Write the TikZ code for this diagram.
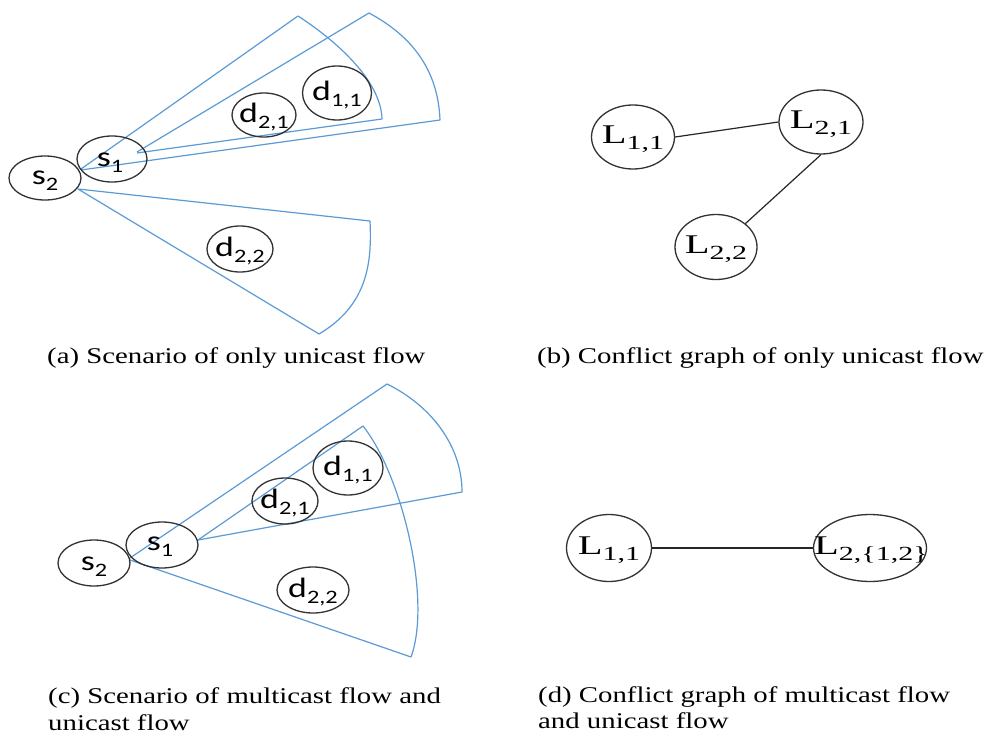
\documentclass[tikz,border=0pt]{standalone}
\usepackage{fontspec}
\setmainfont{Liberation Serif}
\newfontfamily\capfont[FakeStretch=1.28]{Liberation Serif}
\newfontfamily\sfont[FakeStretch=1.28]{Carlito}
\newfontfamily\lfont[FakeStretch=1.5]{Liberation Serif}
\usetikzlibrary{shapes.geometric}
\definecolor{beamc}{RGB}{91,155,213}
\definecolor{ringc}{RGB}{50,50,50}
\newcommand\ssb[1]{\raisebox{-6pt}{\fontsize{19}{19}\selectfont #1}}
\newcommand\lsb[1]{\raisebox{-6pt}{\fontsize{20}{20}\selectfont #1}}
\begin{document}
\begin{tikzpicture}[x=1pt,y=-1pt,
  ring/.style={draw=ringc, line width=1.3pt, ellipse, inner sep=0pt},
  stxt/.style={inner sep=0pt, font=\sfont\fontsize{28}{28}\selectfont},
  ltxt/.style={inner sep=0pt, font=\lfont\fontsize{27}{27}\selectfont},
  beamline/.style={draw=beamc, line width=1.2pt, line join=round},
  link/.style={draw=black!85, line width=1.2pt},
  captxt/.style={inner sep=0pt, anchor=base west, font=\capfont\fontsize{22.5}{27}\selectfont}]
\fill[white] (0,0) rectangle (988,733);
\useasboundingbox (0,0) rectangle (988,733);

% ---------- (a) ----------
\draw[beamline] (81,169) -- (298,16) .. controls (335,40) and (381,80) .. (382,119) -- (137,153);
\draw[beamline] (137,152) -- (369,13) .. controls (410,35) and (438,68) .. (440,120) -- (81,170);
\draw[beamline] (78,189) -- (370,221) .. controls (372,262) and (368,305) .. (319,334) -- cycle;

\node[ring, minimum width=72, minimum height=44] (s2a) at (45,178) {};
\node[stxt] (s2at) at (45,181) {s\ssb{2}};
\node[ring, minimum width=70, minimum height=46] (s1a) at (112,159) {};
\node[stxt] (s1at) at (110,163) {s\ssb{1}};
\node[ring, minimum width=64, minimum height=44] (d21a) at (264,115) {};
\node[stxt] (d21at) at (264,117) {d\ssb{2,1}};
\node[ring, minimum width=69, minimum height=54] (d11a) at (337,93) {};
\node[stxt] (d11at) at (337,95) {d\ssb{1,1}};
\node[ring, minimum width=66, minimum height=46] (d22a) at (240,249) {};
\node[stxt] (d22at) at (240,251) {d\ssb{2,2}};

\node[captxt] (capa) at (47,363) {(a) Scenario of only unicast flow};

% ---------- (b) ----------
\node[ring, minimum width=83, minimum height=64] (L11b) at (633,137) {};
\node[ltxt] (L11bt) at (633,139) {L\lsb{1,1}};
\node[ring, minimum width=84, minimum height=64] (L21b) at (821,122) {};
\node[ltxt] (L21bt) at (821,124) {L\lsb{2,1}};
\node[ring, minimum width=82, minimum height=65] (L22b) at (716,247) {};
\node[ltxt] (L22bt) at (716,249) {L\lsb{2,2}};
\draw[link] (L11b.east) -- (L21b.west);
\draw[link] (L21b.south) -- (L22b.north east);

\node[captxt] (capb) at (537,363) {(b) Conflict graph of only unicast flow};

% ---------- (c) ----------
\draw[beamline] (130,558) -- (387,384) .. controls (430,405) and (462,445) .. (462,492) -- (198,540);
\draw[beamline] (198,540) -- (363,426) .. controls (402,475) and (432,600) .. (411,657) -- (130,560);

\node[ring, minimum width=72, minimum height=46] (s2c) at (94,563) {};
\node[stxt] (s2ct) at (94,567) {s\ssb{2}};
\node[ring, minimum width=72, minimum height=46] (s1c) at (162,545) {};
\node[stxt] (s1ct) at (160,547) {s\ssb{1}};
\node[ring, minimum width=66, minimum height=46] (d21c) at (285,501) {};
\node[stxt] (d21ct) at (285,503) {d\ssb{2,1}};
\node[ring, minimum width=70, minimum height=54] (d11c) at (348,468) {};
\node[stxt] (d11ct) at (348,470) {d\ssb{1,1}};
\node[ring, minimum width=72, minimum height=46] (d22c) at (313,590) {};
\node[stxt] (d22ct) at (313,592) {d\ssb{2,2}};

\node[captxt] (capc1) at (48,703) {(c) Scenario of multicast flow and};
\node[captxt] (capc2) at (48,730) {unicast flow};

% ---------- (d) ----------
\node[ring, minimum width=85, minimum height=67] (L11d) at (609,548) {};
\node[ltxt] (L11dt) at (609,550) {L\lsb{1,1}};
\node[ring, minimum width=113, minimum height=67] (L12d) at (870,548) {};
\node[ltxt] (L12dt) at (871,550) {L\lsb{2,\{1,2\}}};
\draw[link] (L11d.east) -- (L12d.west);

\node[captxt] (capd1) at (538,702) {(d) Conflict graph of multicast flow};
\node[captxt] (capd2) at (538,728) {and unicast flow};
\end{tikzpicture}
\end{document}
